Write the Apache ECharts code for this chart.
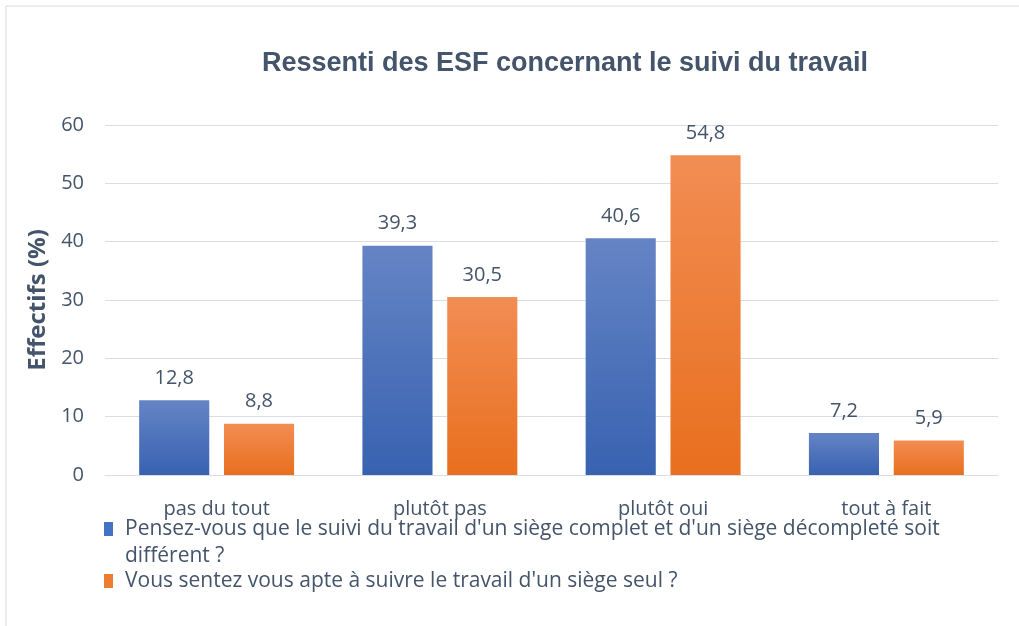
<!DOCTYPE html>
<html>
<head>
<meta charset="utf-8">
<script src="https://cdn.jsdelivr.net/npm/echarts@6/dist/echarts.min.js"></script>
<style>
  html, body { margin: 0; padding: 0; background: #fff; }
  #chart { width: 1019px; height: 626px; }
</style>
</head>
<body>
<div id="chart"></div>
<script>
// categories + the two survey questions
const categories = ['pas du tout', 'plutôt pas', 'plutôt oui', 'tout à fait']
const seriesNames = [
    "Pensez-vous que le suivi du travail d'un siège complet et d'un siège décompleté soit différent ?",
    "Vous sentez vous apte à suivre le travail d'un siège seul ?"
]
const differentValues = [12.8, 39.3, 40.6, 7.2]
const apteValues = [8.8, 30.5, 54.8, 5.9]
const yTicks = { min: 0, max: 60, interval: 10 }

const textColor = '#44546a'
const font = '"Open Sans", sans-serif'
const legendColors = ['#4472c4', '#ed7d31']

function grad(top, bottom) {
    return new echarts.graphic.LinearGradient(0, 0, 0, 1, [
        { offset: 0, color: top },
        { offset: 1, color: bottom }
    ])
}

const labelFmt = p => String(p.value).replace('.', ',')

// word wrap without leading space on the next line
const measureCtx = document.createElement('canvas').getContext('2d')
function wrap(text, maxW, cssFont) {
    measureCtx.font = cssFont
    let lines = []
    let cur = ''
    text.split(' ').forEach(w => {
        let test = cur ? cur + ' ' + w : w
        if (cur && measureCtx.measureText(test).width > maxW) {
            lines.push(cur)
            cur = w
        } else {
            cur = test
        }
    })
    if (cur) lines.push(cur)
    return lines.join('\n')
}

// legend drawn by hand so the square sits on the first line (like the office chart)
const legendTops = [516, 568]
let legendItems = []
seriesNames.forEach((name, i) => {
    legendItems.push({
        type: 'rect',
        shape: { x: 104, y: legendTops[i] + 6, width: 9, height: 14 },
        style: { fill: legendColors[i] },
        silent: true
    })
    legendItems.push({
        type: 'text',
        x: 125,
        y: legendTops[i],
        style: {
            text: wrap(name, 852, '21px "Open Sans", sans-serif'),
            lineHeight: 27,
            fontFamily: font,
            fontSize: 21,
            fill: textColor
        },
        silent: true
    })
})

let chart = echarts.init(document.getElementById('chart'), null, { renderer: 'canvas' })

const option = {
    animation: false,
    graphic: [
        {
            type: 'rect',
            shape: { x: 6, y: 6, width: 1040, height: 660 },
            style: { fill: 'none', stroke: '#d9d9d9', lineWidth: 1 },
            silent: true
        }
    ].concat(legendItems),
    title: {
        text: 'Ressenti des ESF concernant le suivi du travail',
        left: 560,
        textAlign: 'center',
        top: 45,
        textStyle: {
            fontFamily: '"Liberation Sans", Arial, sans-serif',
            fontWeight: 'bold',
            fontSize: 27,
            color: textColor
        }
    },
    grid: { left: 105, right: 21, top: 125, bottom: 151 },
    xAxis: {
        type: 'category',
        data: categories,
        axisLine: { show: true, lineStyle: { color: '#d9dde6', width: 1 } },
        axisTick: { show: false },
        axisLabel: { fontFamily: font, fontSize: 20, color: textColor, margin: 24 }
    },
    yAxis: {
        type: 'value',
        min: yTicks.min,
        max: yTicks.max,
        interval: yTicks.interval,
        name: 'Effectifs (%)',
        nameLocation: 'middle',
        nameGap: 55,
        nameRotate: 90,
        nameTextStyle: { fontFamily: font, fontWeight: 'bold', fontSize: 24, color: textColor },
        axisLine: { show: false },
        axisTick: { show: false },
        axisLabel: { fontFamily: font, fontSize: 20, color: textColor, margin: 21 },
        splitLine: { lineStyle: { color: '#d9dde6', width: 1 } }
    },
    series: [
        {
            name: seriesNames[0],
            type: 'bar',
            data: differentValues,
            barWidth: '31.4%',
            barGap: '21%',
            itemStyle: { color: grad('#6584c5', '#3862b0') },
            label: {
                show: true, position: 'top', distance: 12,
                fontFamily: font, fontSize: 20, color: textColor,
                formatter: labelFmt
            }
        },
        {
            name: seriesNames[1],
            type: 'bar',
            data: apteValues,
            barWidth: '31.4%',
            itemStyle: { color: grad('#f28d53', '#e86f1e') },
            label: {
                show: true, position: 'top', distance: 12,
                fontFamily: font, fontSize: 20, color: textColor,
                formatter: labelFmt
            }
        }
    ]
}

chart.setOption(option)
</script>
</body>
</html>
